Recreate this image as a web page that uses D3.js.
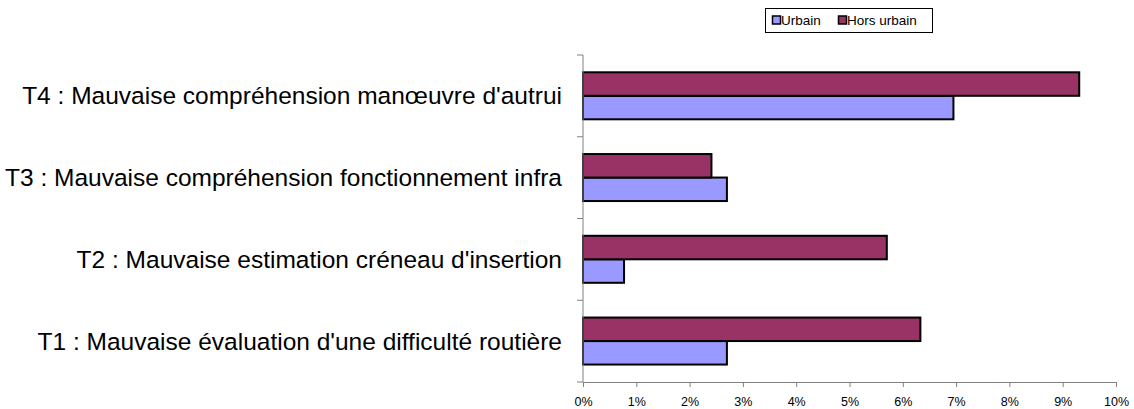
<!DOCTYPE html>
<html><head><meta charset="utf-8">
<script src="https://cdn.jsdelivr.net/npm/d3@7"></script>
<style>body{margin:0;background:#fff}svg{display:block}text{font-family:"Liberation Sans",Arial,sans-serif}</style>
</head><body><div id="chart"></div>
<script>
const categories = ["T1 : Mauvaise évaluation d'une difficulté routière","T2 : Mauvaise estimation créneau d'insertion","T3 : Mauvaise compréhension fonctionnement infra","T4 : Mauvaise compréhension manœuvre d'autrui"];
const seriesNames = ["Urbain","Hors urbain"];
const urbain = [0.027,0.0077,0.027,0.0695];
const horsUrbain = [0.0633,0.057,0.0241,0.0931];
const xTicks = [0,0.01,0.02,0.03,0.04,0.05,0.06,0.07,0.08,0.09,0.10];
const colors = ["#9999FF","#993366"];

const W=1134,H=409;
const svg=d3.select("#chart").append("svg").attr("width",W).attr("height",H);
const x=d3.scaleLinear().domain([0,0.10]).range([583,1116]);
const y=d3.scaleBand().domain(categories.slice().reverse()).range([55,382]);
const inner=d3.scaleBand().domain(["Hors urbain","Urbain"]).range([17.3,64.3]);

const data=categories.map((c,i)=>({c,vals:[{s:"Urbain",v:urbain[i]},{s:"Hors urbain",v:horsUrbain[i]}]}));
const g=svg.append("g");
g.selectAll("g.cat").data(data).join("g").attr("class","cat")
 .attr("transform",d=>`translate(0,${y(d.c)})`)
 .selectAll("rect").data(d=>d.vals).join("rect")
 .attr("x",x(0)).attr("y",d=>inner(d.s)).attr("width",d=>x(d.v)-x(0)).attr("height",inner.bandwidth())
 .attr("fill",d=>colors[seriesNames.indexOf(d.s)]).attr("stroke","#000").attr("stroke-width",2);

// x axis
const xa=svg.append("g").attr("transform",`translate(0,382)`)
 .call(d3.axisBottom(x).tickValues(xTicks).tickFormat(d3.format(".0%")).tickSize(5).tickSizeOuter(0));
xa.select(".domain").attr("stroke","#808080");
xa.selectAll(".tick line").attr("stroke","#808080");
xa.selectAll("text").attr("font-size","12.5px").attr("fill","#000").attr("dy","1.3em");

// y axis line and ticks at band boundaries
svg.append("line").attr("x1",x(0)).attr("x2",x(0)).attr("y1",55).attr("y2",382).attr("stroke","#808080");
const bounds=[55].concat(y.domain().map(c=>y(c)+y.bandwidth()));
svg.selectAll("line.yt").data(bounds).join("line").attr("class","yt")
 .attr("x1",x(0)-6).attr("x2",x(0)).attr("y1",d=>d).attr("y2",d=>d).attr("stroke","#808080");
svg.selectAll("text.cl").data(categories).join("text").attr("class","cl")
 .attr("x",x(0)-21).attr("y",d=>y(d)+y.bandwidth()/2).attr("dy","0.35em")
 .attr("text-anchor","end").attr("font-size","24.5px").attr("fill","#000").text(d=>d);

// legend
const lg=svg.append("g");
lg.append("rect").attr("x",765.5).attr("y",8.5).attr("width",167).attr("height",24).attr("fill","#fff").attr("stroke","#000");
const items=[{s:"Urbain",mx:772,tx:781},{s:"Hors urbain",mx:838,tx:847}];
items.forEach((it,i)=>{
 lg.append("rect").attr("x",it.mx+0.5).attr("y",16).attr("width",8).attr("height",8).attr("fill",colors[i]).attr("stroke","#000").attr("stroke-width",1.5);
 lg.append("text").attr("x",it.tx).attr("y",20).attr("dy","0.35em").attr("font-size","13.5px").text(it.s);
});
</script></body></html>
